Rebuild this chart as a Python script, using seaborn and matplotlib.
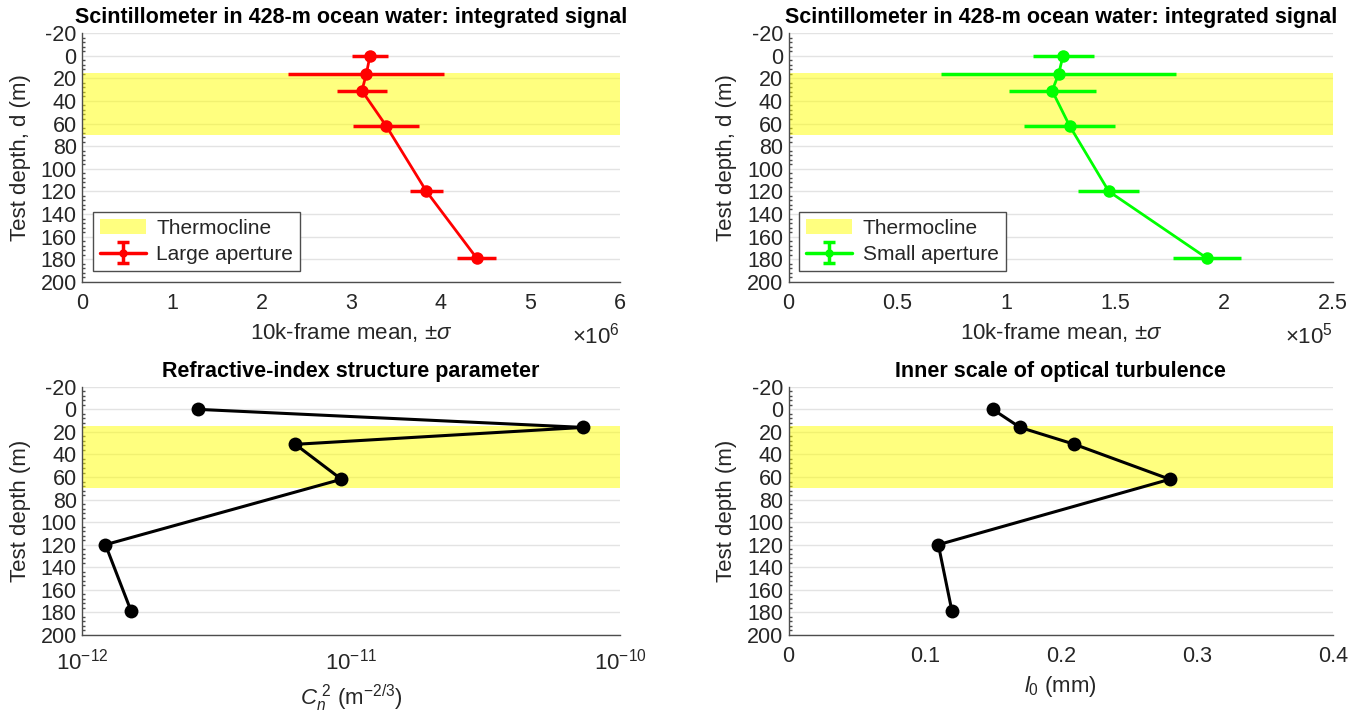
import numpy as np
import matplotlib
matplotlib.use("Agg")
import matplotlib.pyplot as plt
import seaborn as sns
from matplotlib.ticker import AutoMinorLocator, FuncFormatter, LogLocator, NullFormatter

# Data
depth = [0, 16, 31, 62, 120, 179]
large_mean = [3.21e6, 3.17e6, 3.12e6, 3.39e6, 3.84e6, 4.40e6]
large_sd = [0.20e6, 0.87e6, 0.28e6, 0.37e6, 0.18e6, 0.22e6]
small_mean = [1.26e5, 1.24e5, 1.21e5, 1.29e5, 1.47e5, 1.92e5]
small_sd = [0.14e5, 0.54e5, 0.20e5, 0.21e5, 0.14e5, 0.155e5]
cn2 = [2.7e-12, 7.3e-11, 6.2e-12, 9.2e-12, 1.22e-12, 1.52e-12]
l0 = [0.150, 0.170, 0.210, 0.280, 0.110, 0.120]
thermo_top, thermo_bottom = 15, 70

sns.set_theme(style="white")
plt.rcParams['font.family'] = ['Liberation Sans', 'DejaVu Sans']
plt.rcParams['mathtext.fontset'] = 'custom'
plt.rcParams['mathtext.rm'] = 'Liberation Sans'
plt.rcParams['mathtext.it'] = 'Liberation Sans:italic'
plt.rcParams['axes.unicode_minus'] = False

fig = plt.figure(figsize=(13.48, 7.19), dpi=100)
axes = [fig.add_axes([0.061, 0.608, 0.399, 0.346]),
        fig.add_axes([0.585, 0.608, 0.404, 0.346]),
        fig.add_axes([0.061, 0.117, 0.399, 0.345]),
        fig.add_axes([0.585, 0.117, 0.404, 0.345])]

axc = '#262626'
tick_fs = 15.5


def style_axis(ax, ylabel):
    ax.set_ylim(200, -20)
    ax.set_yticks(np.arange(-20, 201, 20))
    ax.yaxis.set_minor_locator(AutoMinorLocator(5))
    ax.set_axisbelow(True)
    ax.grid(axis='y', color='#E3E3E3', linewidth=1.0)
    for s in ['top', 'right']:
        ax.spines[s].set_visible(False)
    for s in ['left', 'bottom']:
        ax.spines[s].set_color('#4D4D4D')
        ax.spines[s].set_linewidth(1.0)
    ax.tick_params(axis='both', which='both', direction='in', colors='#4D4D4D',
                   labelcolor=axc, labelsize=tick_fs)
    ax.tick_params(axis='both', which='major', length=4)
    ax.tick_params(axis='x', which='major', pad=8)
    ax.tick_params(axis='y', which='major', pad=4)
    ax.tick_params(axis='y', which='minor', length=2.5, left=True)
    ax.set_ylabel(ylabel, fontsize=16, color=axc, labelpad=7)
    band = ax.axhspan(thermo_top, thermo_bottom, color='#FFFF00', alpha=0.5,
                      lw=0, zorder=1)
    return band


titles = ['Scintillometer in 428-m ocean water: integrated signal',
          'Scintillometer in 428-m ocean water: integrated signal',
          'Refractive-index structure parameter',
          'Inner scale of optical turbulence']

# Top panels: integrated signal with +/- sigma
for ax, mean, sd, col, lab, xmax, step, exp in [
        (axes[0], large_mean, large_sd, '#FF0000', 'Large aperture', 6e6, 1e6, 6),
        (axes[1], small_mean, small_sd, '#00FF00', 'Small aperture', 2.5e5, 0.5e5, 5)]:
    band = style_axis(ax, 'Test depth, d (m)')
    band.set_label('Thermocline')
    sns.lineplot(x=mean, y=depth, sort=False, ax=ax, color=col, lw=2,
                 marker='o', markersize=9, markeredgewidth=0, zorder=3)
    ax.errorbar(mean, depth, xerr=sd, fmt='none', ecolor=col, elinewidth=2.5,
                capsize=0, zorder=3)
    ax.errorbar([np.nan], [np.nan], yerr=[1], color=col, lw=2.5,
                marker='o', markersize=5, capsize=4, capthick=2.5, label=lab)
    ax.set_xlim(0, xmax)
    ax.set_xticks(np.arange(0, xmax + step / 2, step))
    scale = 10.0 ** exp
    ax.xaxis.set_major_formatter(FuncFormatter(lambda v, p, s=scale: '%g' % round(v / s, 3)))
    ax.annotate(r'$\times10^{%d}$' % exp, xy=(1, 0), xycoords='axes fraction',
                xytext=(0, -39), textcoords='offset points', ha='right',
                va='center', fontsize=16, color=axc)
    ax.set_xlabel(r'10k-frame mean, $\pm\sigma$', fontsize=16, color=axc, labelpad=5)
    leg = ax.legend(loc='lower left', fontsize=15, frameon=True, fancybox=False,
                    borderaxespad=0.5, handlelength=2.2, handletextpad=0.5,
                    borderpad=0.35, labelspacing=0.35)
    leg.get_frame().set_edgecolor('#4D4D4D')
    leg.get_frame().set_linewidth(1.0)
    leg.get_frame().set_alpha(1)

# Bottom left: Cn^2 (log scale)
ax = axes[2]
style_axis(ax, 'Test depth (m)')
ax.set_xscale('log')
sns.lineplot(x=cn2, y=depth, sort=False, ax=ax, color='black', lw=2.2,
             marker='o', markersize=10, markeredgewidth=0, zorder=3)
ax.set_xlim(1e-12, 1e-10)
ax.xaxis.set_major_locator(LogLocator(base=10, numticks=5))
ax.xaxis.set_minor_locator(LogLocator(base=10, subs=np.arange(2, 10), numticks=20))
ax.xaxis.set_minor_formatter(NullFormatter())
ax.tick_params(axis='x', which='minor', length=2.5)
ax.tick_params(axis='x', which='major', labelsize=16, pad=10)
ax.set_xlabel(r'$C_n^{\ 2}$ (m$^{-2/3}$)', fontsize=16, color=axc, labelpad=6)

# Bottom right: inner scale
ax = axes[3]
style_axis(ax, 'Test depth (m)')
sns.lineplot(x=l0, y=depth, sort=False, ax=ax, color='black', lw=2.2,
             marker='o', markersize=10, markeredgewidth=0, zorder=3)
ax.set_xlim(0, 0.4)
ax.set_xticks([0, 0.1, 0.2, 0.3, 0.4])
ax.xaxis.set_major_formatter(FuncFormatter(lambda v, p: '%g' % round(v, 3)))
ax.set_xlabel(r'$l_0$ (mm)', fontsize=16, color=axc, labelpad=5)

for ax in axes[2:]:
    if ax.get_legend() is not None:
        ax.get_legend().remove()

for ax, t in zip(axes, titles):
    ax.set_title(t, fontsize=15.5, fontweight='bold', color='black', pad=7)

fig.savefig('out.png', dpi=100, facecolor='white')
